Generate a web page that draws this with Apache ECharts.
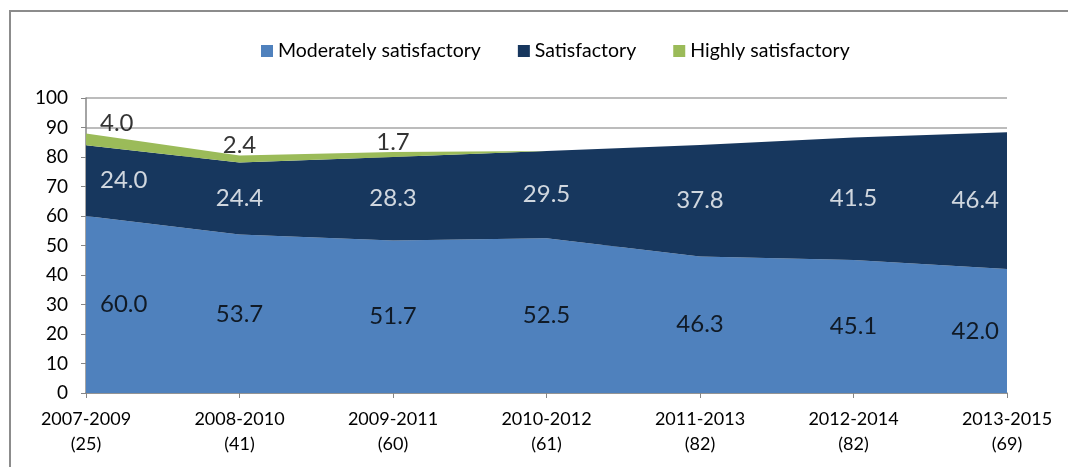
<!DOCTYPE html>
<html lang="en">
<head>
    <meta charset="utf-8"/>
    <title>Satisfaction ratings</title>
    <script src="https://cdn.jsdelivr.net/npm/echarts@6/dist/echarts.min.js"></script>
    <style>
        html, body { margin: 0; padding: 0; background: #fff; }
    </style>
</head>
<body>
<div id="main" style="width: 1068px;height: 467px;"></div>
<script type="text/javascript">

    // period labels and number of projects
    var periods = ['2007-2009', '2008-2010', '2009-2011', '2010-2012', '2011-2013', '2012-2014', '2013-2015'];
    var counts = ['25', '41', '60', '61', '82', '82', '69'];

    // shares per rating (%)
    var moderately = [60.0, 53.7, 51.7, 52.5, 46.3, 45.1, 42.0];
    var satisfactory = [24.0, 24.4, 28.3, 29.5, 37.8, 41.5, 46.4];
    var highly = [4.0, 2.4, 1.7, 0, 0, 0, 0];

    var yTicks = [0, 100, 10];

    var font = 'Lato';
    var colors = ['#4f81bd', '#17375e', '#9bbb59'];

    var categories = [];
    for (var i = 0; i < periods.length; i++) {
        categories.push('{a|' + periods[i] + '}\n{a|(' + counts[i] + ')}');
    }

    // label points sit in the middle of each band (top of band for the thin green one)
    function labelPoints(base, vals, top) {
        var out = [];
        for (var i = 0; i < vals.length; i++) {
            var item = {
                value: top ? base[i] + vals[i] : base[i] + vals[i] / 2,
                raw: vals[i]
            };
            if (i === 0) {
                item.label = { align: 'left', offset: [14, 0] };
            } else if (i === vals.length - 1) {
                item.label = { align: 'right', offset: [-8, 0] };
            }
            out.push(item);
        }
        return out;
    }

    var zero = moderately.map(function () { return 0; });
    var base2 = moderately.slice();
    var base3 = moderately.map(function (v, i) { return v + satisfactory[i]; });

    function labelSeries(data, color, pos) {
        return {
            type: 'scatter',
            symbolSize: 0,
            silent: true,
            z: 5,
            data: data,
            label: {
                show: true,
                position: pos,
                distance: -2,
                color: color,
                fontFamily: font,
                fontSize: 24,
                formatter: function (p) {
                    return p.data.raw > 0 ? p.data.raw.toFixed(1) : '';
                }
            }
        };
    }

    function areaSeries(name, data, color) {
        return {
            name: name,
            type: 'line',
            stack: 'total',
            data: data,
            symbol: 'none',
            color: color,
            lineStyle: { width: 0 },
            areaStyle: { color: color, opacity: 1 }
        };
    }

    var myChart = echarts.init(document.getElementById('main'));

    var option = {
        animation: false,
        graphic: [{
            type: 'rect',
            shape: { x: 10, y: 11, width: 1100, height: 500 },
            style: { fill: 'none', stroke: '#8c8c8c', lineWidth: 2 },
            silent: true
        }],
        legend: {
            top: 36,
            left: 256,
            icon: 'rect',
            itemWidth: 12,
            itemHeight: 12,
            itemGap: 37,
            textStyle: { fontFamily: font, fontSize: 19.5, color: '#000' },
            data: ['Moderately satisfactory', 'Satisfactory', 'Highly satisfactory']
        },
        grid: {
            left: 86,
            right: 61,
            top: 98,
            bottom: 74
        },
        xAxis: {
            type: 'category',
            boundaryGap: false,
            data: categories,
            axisLine: { lineStyle: { color: '#868686', width: 1.5 } },
            axisTick: { show: true, length: 5, lineStyle: { color: '#868686' } },
            axisLabel: {
                color: '#000',
                margin: 14,
                rich: {
                    a: { fontFamily: font, fontSize: 18, lineHeight: 25, color: '#000' }
                }
            }
        },
        yAxis: {
            type: 'value',
            min: yTicks[0],
            max: yTicks[1],
            interval: yTicks[2],
            axisLine: { show: true, lineStyle: { color: '#868686', width: 1.5 } },
            axisTick: { show: true, length: 5, lineStyle: { color: '#868686' } },
            splitLine: { lineStyle: { color: '#a6a6a6', width: 1.5 } },
            axisLabel: {
                color: '#000',
                fontFamily: font,
                fontSize: 19,
                margin: 18
            }
        },
        series: [
            areaSeries('Moderately satisfactory', moderately, colors[0]),
            areaSeries('Satisfactory', satisfactory, colors[1]),
            areaSeries('Highly satisfactory', highly, colors[2]),
            labelSeries(labelPoints(zero, moderately, false), '#000', 'inside'),
            labelSeries(labelPoints(base2, satisfactory, false), '#fff', 'inside'),
            labelSeries(labelPoints(base3, highly, true), '#000', 'top')
        ]
    };

    myChart.setOption(option);
</script>
</body>
</html>
